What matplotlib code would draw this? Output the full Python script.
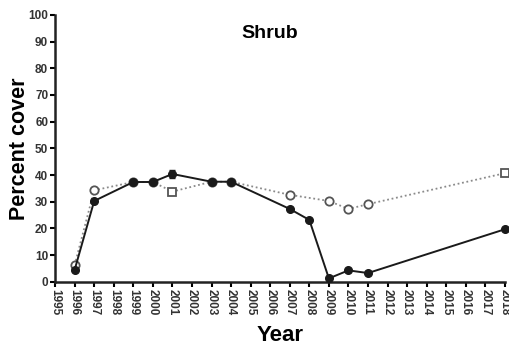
import matplotlib
matplotlib.use("Agg")
import matplotlib.pyplot as plt

plt.rcParams["font.family"] = ["Liberation Sans", "DejaVu Sans"]

# Shrub percent cover by survey year
years_open = [1996, 1997, 1999, 2000, 2001, 2003, 2004, 2007, 2009, 2010, 2011, 2018]
cover_open = [6.3, 34.3, 37.4, 37.4, 33.8, 37.5, 37.5, 32.6, 30.3, 27.3, 29.1, 40.7]
square_years = [2001, 2018]

years_filled = [1996, 1997, 1999, 2000, 2001, 2003, 2004, 2007, 2008, 2009, 2010, 2011, 2018]
cover_filled = [4.5, 30.3, 37.4, 37.4, 40.4, 37.5, 37.5, 27.3, 23.2, 1.3, 4.3, 3.3, 19.7]
err_filled = [0, 0, 0, 0, 1.5, 0, 0, 0, 0, 0, 0, 0, 0]

x_ticks = list(range(1995, 2019))
y_ticks = list(range(0, 101, 10))

fig = plt.figure(figsize=(5.1, 3.45), dpi=100)
ax = fig.add_axes([0.108, 0.183, 0.882, 0.774])

# open series: dotted grey line, hollow markers
ax.plot(years_open, cover_open, linestyle=(0, (1, 1.5)), color="#8a8a8a",
        linewidth=1.3, zorder=2, clip_on=False)
for yr, val in zip(years_open, cover_open):
    mk = "s" if yr in square_years else "o"
    ax.plot(yr, val, marker=mk, markersize=6, markerfacecolor="white",
            markeredgecolor="#555555", markeredgewidth=1.3, zorder=3, clip_on=False)

# filled series: solid black line with error bars
ax.errorbar(years_filled, cover_filled, yerr=err_filled, color="#1a1a1a",
            linewidth=1.4, marker="o", markersize=5.5, capsize=2.5,
            elinewidth=1.2, zorder=4, clip_on=False)

ax.set_xlim(1995, 2018)
ax.set_ylim(0, 100)
ax.set_xticks(x_ticks)
ax.set_yticks(y_ticks)
ax.set_xticklabels([str(y) for y in x_ticks], rotation=-90, fontsize=8.5,
                   fontweight="bold", color="#333333")
ax.set_yticklabels([str(v) for v in y_ticks], fontsize=8.5,
                   fontweight="bold", color="#333333")
ax.tick_params(axis="both", direction="out", length=3.5, width=1.5, pad=1.5)

for side in ["top", "right"]:
    ax.spines[side].set_visible(False)
for side in ["left", "bottom"]:
    ax.spines[side].set_linewidth(1.8)
    ax.spines[side].set_color("#222222")

ax.set_ylabel("Percent cover", fontsize=15.5, fontweight="bold", labelpad=-1)
ax.set_xlabel("Year", fontsize=16, fontweight="bold", labelpad=7)
ax.text(0.476, 0.93, "Shrub", transform=ax.transAxes, ha="center", va="center",
        fontsize=14, fontweight="bold")

fig.savefig("out.png", dpi=100)
